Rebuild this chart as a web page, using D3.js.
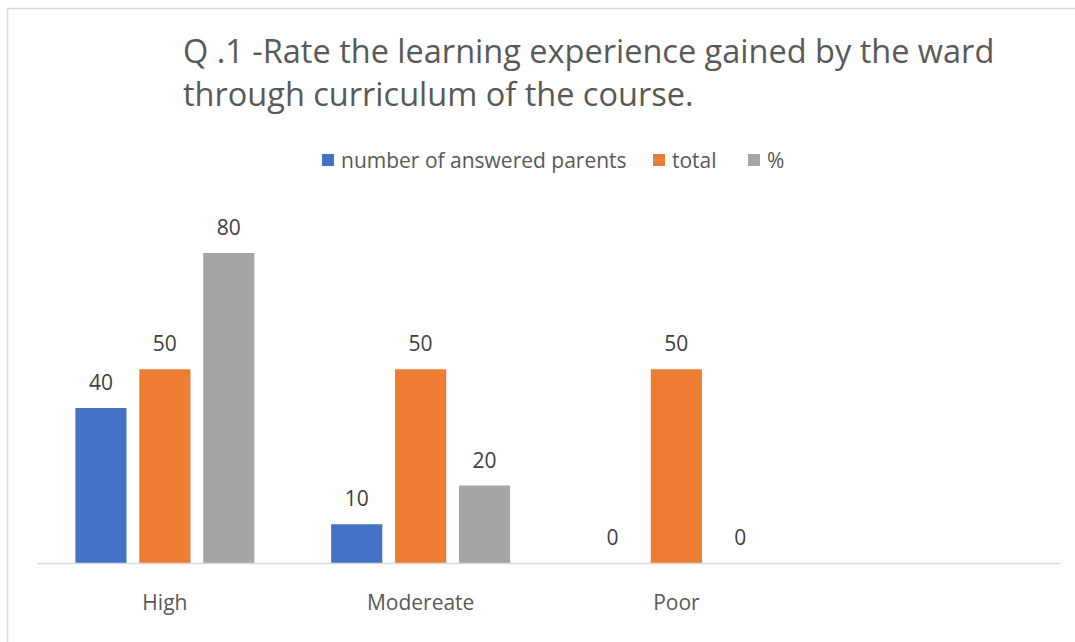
<!DOCTYPE html>
<html lang="en">
<head>
<meta charset="UTF-8" />
<script src="https://cdn.jsdelivr.net/npm/d3@7"></script>
<style>
  body { margin: 0; background: #fff; }
  text { font-family: "Open Sans", "Noto Sans", sans-serif; }
</style>
</head>
<body>
<div id="chart"></div>
<script>
// data
const categories = ["High", "Modereate", "Poor", ""];
const seriesNames = ["number of answered parents", "total", "%"];
const answered = [40, 10, 0, null];
const total = [50, 50, 50, null];
const percent = [80, 20, 0, null];
const titleLines = ["Q .1 -Rate the learning experience gained by the ward", "through curriculum of the course."];

const W = 1075, H = 642;
const colors = ["#4472c4", "#ed7d31", "#a5a5a5"];

const svg = d3.select("#chart").append("svg")
  .attr("width", W).attr("height", H);

// chart frame
svg.append("rect")
  .attr("x", 7.5).attr("y", 8.5)
  .attr("width", W + 20).attr("height", H + 20)
  .attr("fill", "none").attr("stroke", "#d9d9d9").attr("stroke-width", 1.5);

// title
const title = svg.append("text")
  .attr("x", 183).attr("y", 63)
  .attr("fill", "#595959").attr("font-size", 32.5);
title.selectAll("tspan").data(titleLines).enter().append("tspan")
  .attr("x", 183).attr("dy", (d, i) => i === 0 ? 0 : 43)
  .text(d => d);

// scales
const plot = { left: 37, right: 1060, top: 253, bottom: 563 };
const x0 = d3.scaleBand().domain(d3.range(categories.length))
  .range([plot.left, plot.right]).paddingInner(0).paddingOuter(0);
const groupPad = (x0.bandwidth() - 179) / 2;
const x1 = d3.scaleBand().domain(d3.range(seriesNames.length))
  .range([groupPad, x0.bandwidth() - groupPad]).paddingInner(0.2);
const y = d3.scaleLinear().domain([0, 80]).range([plot.bottom, plot.top]);

const rows = categories.map((c, i) => ({ cat: i, vals: [answered[i], total[i], percent[i]] }));

const groups = svg.selectAll("g.grp").data(rows).enter().append("g")
  .attr("class", "grp")
  .attr("transform", d => `translate(${x0(d.cat)},0)`);

groups.selectAll("rect").data(d => d.vals.map((v, k) => ({ v, k })).filter(e => e.v !== null))
  .enter().append("rect")
  .attr("x", e => x1(e.k))
  .attr("width", x1.bandwidth())
  .attr("y", e => y(e.v))
  .attr("height", e => y(0) - y(e.v))
  .attr("fill", e => colors[e.k]);

groups.selectAll("text.lbl").data(d => d.vals.map((v, k) => ({ v, k })).filter(e => e.v !== null))
  .enter().append("text")
  .attr("class", "lbl")
  .attr("x", e => x1(e.k) + x1.bandwidth() / 2)
  .attr("y", e => y(e.v) - 18)
  .attr("text-anchor", "middle")
  .attr("font-size", 21).attr("fill", "#404040")
  .text(e => e.v);

// x axis
const xAxis = svg.append("g")
  .attr("transform", `translate(0,${plot.bottom})`)
  .call(d3.axisBottom(x0).tickSize(0).tickPadding(0).tickFormat(i => categories[i]));
xAxis.select(".domain").attr("stroke", "#d9d9d9").attr("stroke-width", 1.5);
xAxis.selectAll(".tick text")
  .attr("y", 47).attr("dy", 0)
  .attr("font-size", 21).attr("fill", "#595959")
  .style("font-family", "'Open Sans', sans-serif");

// legend
const legendX = [322, 653, 748];
const legend = svg.selectAll("g.legend").data(seriesNames).enter().append("g")
  .attr("class", "legend")
  .attr("transform", (d, i) => `translate(${legendX[i]},154)`);
legend.append("rect").attr("width", 12).attr("height", 12)
  .attr("fill", (d, i) => colors[i]);
legend.append("text").attr("x", 19).attr("y", 14)
  .attr("font-size", 21).attr("fill", "#595959")
  .text(d => d);
</script>
</body>
</html>
